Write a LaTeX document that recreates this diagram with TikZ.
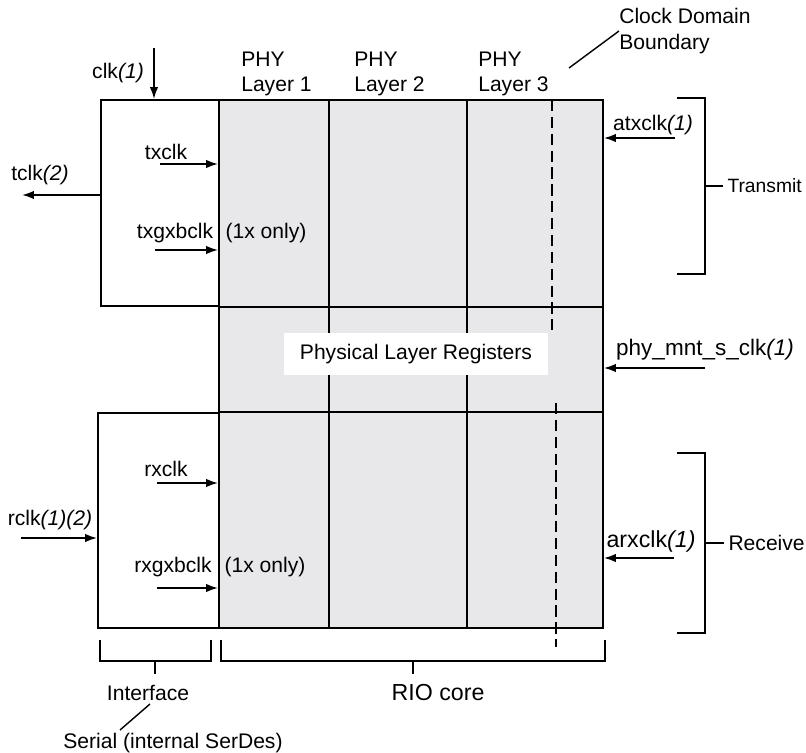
\documentclass[tikz,border=0pt]{standalone}
\usepackage{fontspec}
\setmainfont{Liberation Sans}
\usetikzlibrary{arrows.meta, fit}
\definecolor{coregray}{RGB}{232,232,235}
\tikzset{
  ifbox/.style={rectangle, draw, line width=1.3pt, inner sep=0pt},
  corebox/.style={rectangle, draw, fill=coregray, line width=1.3pt, inner sep=0pt},
  regbox/.style={rectangle, fill=white, minimum width=6.575cm,
    minimum height=1.025cm, inner sep=0pt, font=\fontsize{15}{18}\selectfont},
  lbl/.style={inner sep=0pt, font=\fontsize{15}{18}\selectfont},
  lblL/.style={lbl, align=left},
  lblB/.style={inner sep=0pt, font=\fontsize{16.5}{19}\selectfont},
  brlbl/.style={lbl, anchor=west, inner xsep=3pt},
  arr/.style={-{Latex[length=8.5pt,width=6pt]}, line width=1.3pt},
  brk/.style={line width=1.3pt},
  divl/.style={line width=1.3pt},
  cdline/.style={line width=1.3pt, dash pattern=on 8pt off 4pt},
}
\begin{document}
\begin{tikzpicture}[x=0.025cm, y=-0.025cm]
  \useasboundingbox (0,0) rectangle (806,753);

  % ---- blocks ----
  \node[corebox, fit={(219,100) (603,628)}] (core) {};
  \node[ifbox, fit={(101,100) (219,306)}] (txbox) {};
  \node[ifbox, fit={(98,413) (219,628)}] (rxbox) {};

  % ---- rows and columns of the core ----
  \coordinate (c2) at (329,100);
  \coordinate (c3) at (467,100);
  \draw[divl] (c2) -- (c2 |- core.south);
  \draw[divl] (c3) -- (c3 |- core.south);
  \draw[divl] (txbox.south east) -- (core.east |- txbox.south);
  \draw[divl] (rxbox.north east) -- (core.east |- rxbox.north);
  \draw[cdline] (552,100) -- (552,330);
  \draw[cdline] (556,403) -- (556,647);

  \node[regbox] (regs) at (416,354) {Physical Layer Registers};

  % ---- top labels ----
  \node[lblL, anchor=west] (phy1) at (241,74) {PHY\\Layer 1};
  \node[lblL, anchor=west] (phy2) at (354,74) {PHY\\Layer 2};
  \node[lblL, anchor=west] (phy3) at (478,74) {PHY\\Layer 3};
  \node[lblL, anchor=west] (cdb) at (619,31) {Clock Domain\\Boundary};
  \coordinate (cdfoot) at (569,68);
  \draw[brk, line width=1pt] (cdfoot) -- (cdb.west);

  % ---- transmit side ----
  \node[lbl] (clk) at (118,73) {clk\textit{(1)}};
  \coordinate (clktop) at (154,48);
  \draw[arr] (clktop) -- (clktop |- txbox.north);

  \node[lbl] (tclk) at (40,175) {tclk\textit{(2)}};
  \coordinate (tclkend) at (22,195);
  \draw[arr] (txbox.west |- tclkend) -- (tclkend);

  \node[lbl] (txclk) at (166,152) {txclk};
  \coordinate (txclkst) at (160,164);
  \draw[arr] (txclkst) -- (core.west |- txclkst);

  \node[lbl] (txgx) at (175,233) {txgxbclk};
  \node[lbl] (txonly) at (266,233) {(1x only)};
  \coordinate (txgxst) at (155,250);
  \draw[arr] (txgxst) -- (core.west |- txgxst);

  \node[lbl] (atx) at (653,125) {atxclk\textit{(1)}};
  \coordinate (atxst) at (675,138);
  \draw[arr] (atxst) -- (core.east |- atxst);

  % ---- registers ----
  \node[lbl, font=\fontsize{16}{19}\selectfont] (mnt) at (705,350) {phy\_mnt\_s\_clk\textit{(1)}};
  \coordinate (mntst) at (705,368);
  \draw[arr] (mntst) -- (core.east |- mntst);

  % ---- receive side ----
  \node[lbl] (rxclk) at (166,469) {rxclk};
  \coordinate (rxclkst) at (157,483);
  \draw[arr] (rxclkst) -- (core.west |- rxclkst);

  \node[lbl] (rxgx) at (173,567) {rxgxbclk};
  \node[lbl] (rxonly) at (265,567) {(1x only)};
  \coordinate (rxgxst) at (157,588);
  \draw[arr] (rxgxst) -- (core.west |- rxgxst);

  \node[lbl] (rclk) at (50,520) {rclk\textit{(1)(2)}};
  \coordinate (rclkst) at (21,538);
  \draw[arr] (rclkst) -- (rxbox.west |- rclkst);

  \node[lblB] (arx) at (651,541) {arxclk\textit{(1)}};
  \coordinate (arxst) at (674,558);
  \draw[arr] (arxst) -- (core.east |- arxst);

  % ---- right brackets ----
  \node[brlbl, font=\fontsize{13.7}{16}\selectfont] (trans) at (723,186) {Transmit};
  \draw[brk] (677,98) -| (705,274) -- (677,274);
  \draw[brk] (705,186) -- (trans.west);

  \node[brlbl] (recv) at (724,543) {Receive};
  \draw[brk] (677,453) -| (705,633) -- (677,633);
  \draw[brk] (705,543) -- (recv.west);

  % ---- bottom brackets ----
  \node[lbl] (ifl) at (148,693) {Interface};
  \draw[brk] (100,640) |- (211,661) -- (211,640);
  \draw[brk] (155,661) -- (155,674);

  \node[lblB] (riol) at (438,693) {RIO core};
  \draw[brk] (221,640) |- (605,661) -- (605,640);
  \draw[brk] (413,661) -- (413,674);

  \node[lbl] (serl) at (173,743) {Serial (internal SerDes)};
  \coordinate (sertop) at (120,730);
  \draw[brk, line width=1pt] (150,704) -- (sertop);
\end{tikzpicture}
\end{document}
